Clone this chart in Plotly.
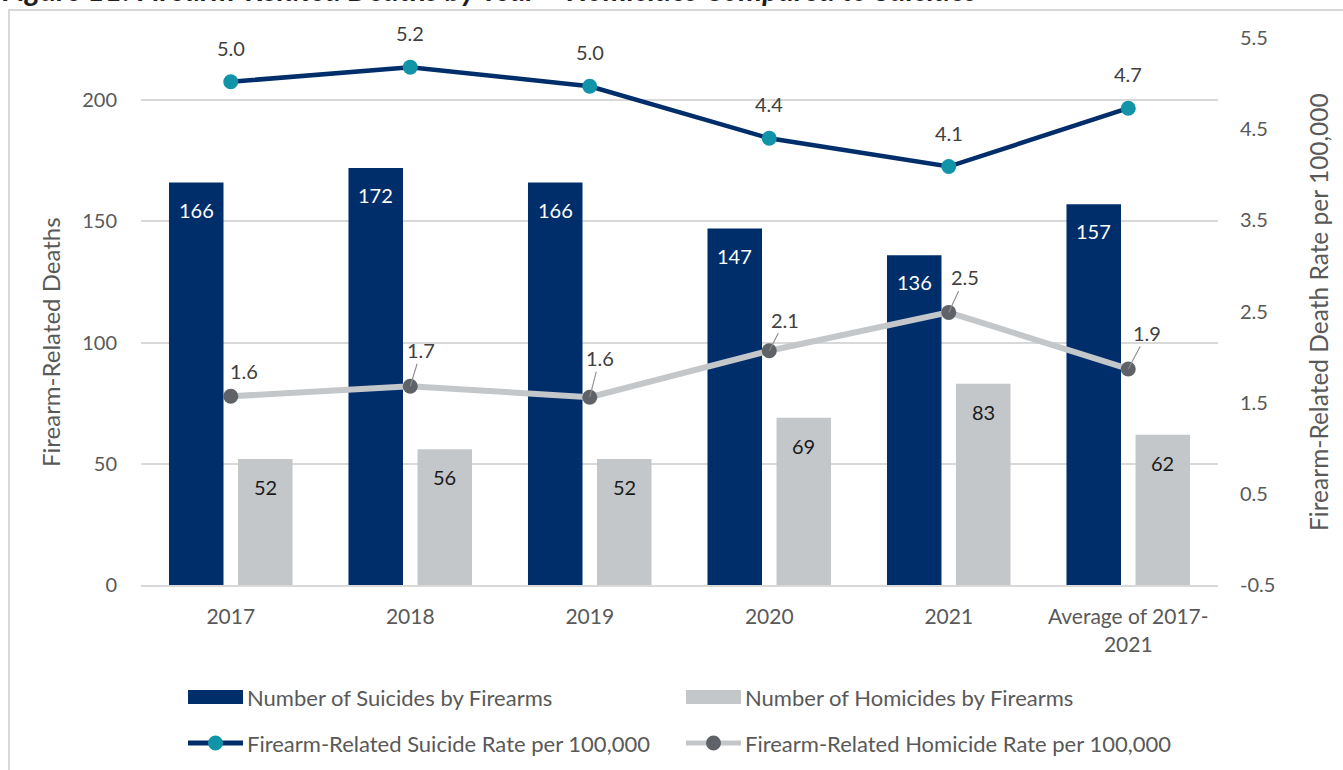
import plotly.graph_objects as go

# ---------------- data ----------------
categories = ["2017", "2018", "2019", "2020", "2021", "Average of 2017-<br>2021"]
suicides = [166, 172, 166, 147, 136, 157]
homicides = [52, 56, 52, 69, 83, 62]
suicide_rate = [5.02, 5.18, 4.97, 4.40, 4.09, 4.73]
homicide_rate = [1.57, 1.68, 1.56, 2.07, 2.49, 1.87]
rate_ticks = [-0.5, 0.5, 1.5, 2.5, 3.5, 4.5, 5.5]
count_ticks = [0, 50, 100, 150, 200]

title_text = "Figure 11: Firearm-Related Deaths by Year \u2013 Homicides Compared to Suicides"
left_title = "Firearm-Related Deaths"
right_title = "Firearm-Related Death Rate per 100,000"
legend_names = ["Number of Suicides by Firearms", "Number of Homicides by Firearms",
                "Firearm-Related Suicide Rate per 100,000", "Firearm-Related Homicide Rate per 100,000"]

# ---------------- style ----------------
W, H = 1343, 770
ML, MR, MT, MB = 141, 125, 38, 185
PW, PH = W - ML - MR, H - MT - MB
FONT = "Lato, 'Open Sans', sans-serif"
NAVY = "#002E6B"
TEAL = "#1194A8"
LGRAY = "#C4C7CA"
DGRAY = "#5F6266"
TXT = "#595959"
LBL = "#404040"
GRID = "#D9D9D9"
FS = 20
FS_LEG = 22
FS_TITLE = 24

def px(xp):
    return (xp - ML) / PW

def py(yp):
    return (H - MB - yp) / PH

fig = go.Figure()

fig.add_trace(go.Bar(x=categories, y=suicides, name=legend_names[0],
                     marker=dict(color=NAVY, line=dict(width=0)), showlegend=False))
fig.add_trace(go.Bar(x=categories, y=homicides, name=legend_names[1],
                     marker=dict(color=LGRAY, line=dict(width=0)), showlegend=False))
fig.add_trace(go.Scatter(x=categories, y=suicide_rate, yaxis="y2", mode="lines+markers",
                         name=legend_names[2], line=dict(color=NAVY, width=4.5),
                         marker=dict(color=TEAL, size=15), showlegend=False))
fig.add_trace(go.Scatter(x=categories, y=homicide_rate, yaxis="y2", mode="lines+markers",
                         name=legend_names[3], line=dict(color=LGRAY, width=6),
                         marker=dict(color=DGRAY, size=15), showlegend=False))

ann = []
# bar value labels (x given as category index)
for i, v in enumerate(suicides):
    ann.append(dict(x=i, y=v, xref="x", yref="y", xshift=-34.5, yshift=-27, text=str(v),
                    xanchor="center", yanchor="middle",
                    showarrow=False, font=dict(family=FONT, size=FS, color="white")))
for i, v in enumerate(homicides):
    ann.append(dict(x=i, y=v, xref="x", yref="y", xshift=34.5, yshift=-28, text=str(v),
                    xanchor="center", yanchor="middle",
                    showarrow=False, font=dict(family=FONT, size=FS, color="#1A1A1A")))
# suicide rate labels
for i, v in enumerate(suicide_rate):
    ann.append(dict(x=i, y=v, xref="x", yref="y2", yshift=34, text=f"{v:.1f}",
                    xanchor="center", yanchor="middle",
                    showarrow=False, font=dict(family=FONT, size=FS, color=LBL)))
# homicide rate labels (with leader lines)
hom_offsets = [(13, -25, False), (11, -36, True), (10, -39, True), (16, -31, True), (16, -35, True), (19, -36, True)]
for i, (v, (dx, dy, arrow)) in enumerate(zip(homicide_rate, hom_offsets)):
    if arrow:
        ann.append(dict(x=i, y=v, xref="x", yref="y2", ax=dx, ay=dy, text=f"{v:.1f}",
                        showarrow=True, arrowhead=0, arrowwidth=1.1, arrowcolor="#8C8C8C",
                        standoff=0, font=dict(family=FONT, size=FS, color=LBL)))
    else:
        ann.append(dict(x=i, y=v, xref="x", yref="y2", xshift=dx, yshift=-dy, text=f"{v:.1f}",
                        xanchor="center", yanchor="middle",
                        showarrow=False, font=dict(family=FONT, size=FS, color=LBL)))

# title (cut at the top as in the source)
ann.append(dict(x=px(0), y=py(9), xref="paper", yref="paper", xanchor="left", yanchor="bottom",
                text=f"<b><i>{title_text}</i></b>", showarrow=False,
                font=dict(family=FONT, size=30, color="#1F1F1F")))
# axis titles
ann.append(dict(x=px(50), y=py(342), xref="paper", yref="paper", text=left_title, textangle=-90,
                xanchor="center", yanchor="middle",
                showarrow=False, font=dict(family=FONT, size=FS_TITLE, color=TXT)))
ann.append(dict(x=px(1318), y=py(312), xref="paper", yref="paper", text=right_title, textangle=-90,
                xanchor="center", yanchor="middle",
                showarrow=False, font=dict(family=FONT, size=24.5, color=TXT)))

# manual legend
shapes = []
legend_rows = [697, 743]
legend_cols = [188, 686]
sw = 55
kinds = [("bar", NAVY, None), ("bar", LGRAY, None), ("line", NAVY, TEAL), ("line", LGRAY, DGRAY)]
for i, (kind, col, mcol) in enumerate(kinds):
    xl = legend_cols[i % 2]
    yc = legend_rows[i // 2]
    if kind == "bar":
        shapes.append(dict(type="rect", xref="paper", yref="paper", x0=px(xl), x1=px(xl + sw),
                           y0=py(yc + 7), y1=py(yc - 7), fillcolor=col, line=dict(width=0)))
    else:
        shapes.append(dict(type="line", xref="paper", yref="paper", x0=px(xl), x1=px(xl + sw),
                           y0=py(yc), y1=py(yc), line=dict(color=col, width=5)))
        shapes.append(dict(type="circle", xref="paper", yref="paper", xsizemode="pixel", ysizemode="pixel",
                           xanchor=px(xl + sw / 2), yanchor=py(yc), x0=-7.5, x1=7.5, y0=-7.5, y1=7.5,
                           fillcolor=mcol, line=dict(width=0)))
    ann.append(dict(x=px(xl + sw + 2), y=py(yc), xref="paper", yref="paper", xanchor="left",
                    yanchor="middle", text=legend_names[i], showarrow=False,
                    font=dict(family=FONT, size=FS_LEG, color=TXT)))

# outer border of chart area
shapes.append(dict(type="rect", xref="paper", yref="paper", x0=px(9), x1=px(W + 20),
                   y0=py(H + 20), y1=py(10), line=dict(color=GRID, width=2), fillcolor="rgba(0,0,0,0)"))

fig.update_layout(
    width=W, height=H,
    margin=dict(l=ML, r=MR, t=MT, b=MB, pad=0),
    paper_bgcolor="white", plot_bgcolor="white",
    barmode="group", bargap=0.231, bargroupgap=0.21,
    font=dict(family=FONT, size=FS, color=TXT),
    showlegend=False,
    xaxis=dict(type="category", range=[-0.5, len(categories) - 0.5], autorange=False,
               showgrid=False, showline=True, linecolor=GRID, linewidth=2, ticks="",
               tickfont=dict(family=FONT, size=21, color=TXT), ticklabelstandoff=12),
    yaxis=dict(range=[0, 225.6], autorange=False, tickvals=count_ticks, showgrid=True, gridcolor=GRID,
               gridwidth=2, zeroline=False, ticks="", tickfont=dict(family=FONT, size=FS, color=TXT),
               ticklabelstandoff=23),
    yaxis2=dict(range=[-0.5, 5.5], autorange=False, tickvals=rate_ticks,
                ticktext=[f"{t:.1f}" for t in rate_ticks],
                overlaying="y", side="right", showgrid=False, zeroline=False, ticks="",
                tickfont=dict(family=FONT, size=FS, color=TXT), ticklabelstandoff=21),
    annotations=ann,
    shapes=shapes,
)

fig.write_html("out.html", config={"displayModeBar": False},
               post_script="document.body.style.margin='0';document.body.style.overflow='hidden';")
